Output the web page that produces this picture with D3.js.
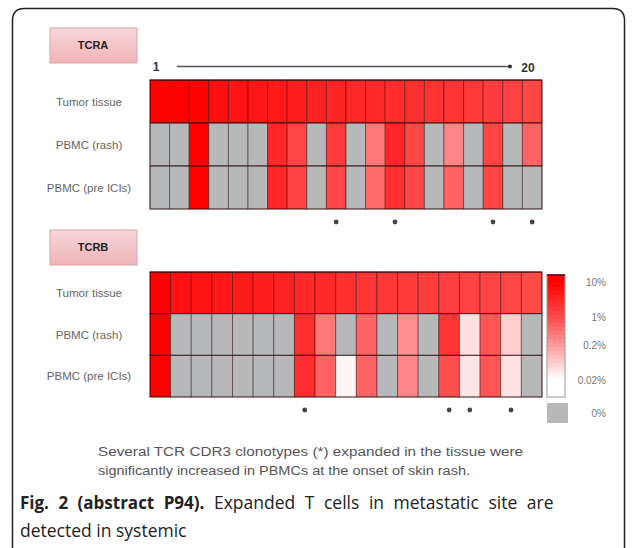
<!DOCTYPE html>
<html>
<head>
<meta charset="utf-8">
<script src="https://cdn.jsdelivr.net/npm/d3@7"></script>
<style>
  html, body { margin: 0; padding: 0; background: #fff; }
  svg { display: block; }
  .narrow { font-family: "Liberation Sans Narrow", "Arial Narrow", "Liberation Sans", Arial, sans-serif; }
  .cap { font-family: "Open Sans", "Noto Sans", sans-serif; }
</style>
</head>
<body>
<script>
// clone frequencies (%) per clonotype, 0 = not detected
var rowNames = ['Tumor tissue', 'PBMC (rash)', 'PBMC (pre ICIs)'];

var tcraTumor = [12, 11, 9, 6, 5.5, 5, 4.5, 4, 3.5, 3.2, 3, 2.8, 2.5, 2.3, 2.1, 1.9, 1.7, 1.5, 1.3, 1.1];
var tcraRash  = [0, 0, 14, 0, 0, 0, 3, 1.2, 0, 1.5, 0, 0.4, 3, 1.1, 0, 0.3, 0, 1.2, 0, 0.6];
var tcraPre   = [0, 0, 14, 0, 0, 0, 3, 1.3, 0, 1.1, 0, 0.5, 2.5, 1.1, 0, 0.6, 0, 1.2, 0, 0];
var tcraStars = [10, 13, 18, 20];

var tcrbTumor = [20, 6, 5.5, 5, 4.5, 4, 3.5, 3, 2.6, 2.3, 2, 1.8, 1.6, 1.5, 1.4, 1.3, 1.2, 1.1, 1.0];
var tcrbRash  = [20, 0, 0, 0, 0, 0, 0, 2.5, 0.4, 0, 0.6, 0, 0.25, 0, 2, 0.04, 0.8, 0.06, 0];
var tcrbPre   = [20, 0, 0, 0, 0, 0, 0, 2.5, 0.6, 0.025, 0.6, 0, 0.3, 0, 0.9, 0.035, 0.8, 0.04, 0];
var tcrbStars = [8, 15, 16, 18];

var legendTicks = [10, 1, 0.2, 0.02];
var legendLabels = ['10%', '1%', '0.2%', '0.02%'];

var W = 637, H = 548;
var svg = d3.select('body').append('svg').attr('width', W).attr('height', H);

var gray = '#b6b8ba';
var color = d3.scaleLog()
  .domain([0.02, 0.2, 1, 10])
  .range(['#ffffff', '#ff9a9a', '#ff4a4a', '#ff0000'])
  .clamp(true);

function cellColor(v) { return v > 0 ? color(v) : gray; }

// frame around the figure
svg.append('path')
  .attr('d', 'M12.5,' + (H + 5) + ' V20.5 Q12.5,8.5 24.5,8.5 H612.5 Q624.5,8.5 624.5,20.5 V' + (H + 5))
  .attr('fill', 'none')
  .attr('stroke', '#222')
  .attr('stroke-width', 1.5);

var defs = svg.append('defs');
var grad = defs.append('linearGradient').attr('id', 'boxgrad').attr('x1', 0).attr('y1', 0).attr('x2', 0).attr('y2', 1);
grad.append('stop').attr('offset', '0%').attr('stop-color', '#f7d6d8');
grad.append('stop').attr('offset', '100%').attr('stop-color', '#f0b4b8');

function drawPanel(opts) {
  var g = svg.append('g');
  var n = opts.rows[0].length;

  var x = d3.scaleBand().domain(d3.range(1, n + 1)).range([150, 542]);
  var y = d3.scaleBand().domain(rowNames).range([opts.top, opts.bottom]);

  // title box
  g.append('rect')
    .attr('x', 50).attr('y', opts.boxY).attr('width', 87).attr('height', 35)
    .attr('fill', 'url(#boxgrad)').attr('stroke', '#d7a6a9').attr('stroke-width', 1);
  g.append('text')
    .attr('class', 'narrow')
    .attr('x', 93).attr('y', opts.boxY + 21)
    .attr('text-anchor', 'middle')
    .attr('font-size', 11).attr('font-weight', 'bold').attr('fill', '#222')
    .text(opts.title);

  // row labels
  g.selectAll('.rowlab')
    .data(rowNames)
    .enter()
    .append('text')
      .attr('class', 'narrow rowlab')
      .attr('x', 89)
      .attr('y', function (d) { return y(d) + y.bandwidth() / 2 + 4; })
      .attr('text-anchor', 'middle')
      .attr('font-size', 11.5)
      .attr('fill', '#666')
      .text(function (d) { return d; });

  // cells
  opts.rows.forEach(function (vals, r) {
    g.selectAll('.c' + r)
      .data(vals)
      .enter()
      .append('rect')
        .attr('x', function (d, i) { return x(i + 1); })
        .attr('y', y(rowNames[r]))
        .attr('width', x.bandwidth())
        .attr('height', y.bandwidth())
        .attr('fill', function (d) { return cellColor(d); })
        .attr('stroke', 'rgba(40,0,0,0.45)')
        .attr('stroke-width', 1);
  });

  // row separators
  g.selectAll('.sep')
    .data(rowNames)
    .enter()
    .append('line')
      .attr('x1', 150).attr('x2', 542)
      .attr('y1', function (d) { return y(d); })
      .attr('y2', function (d) { return y(d); })
      .attr('stroke', 'rgba(30,0,0,0.6)');
  g.append('rect')
    .attr('x', 150).attr('y', opts.top).attr('width', 392).attr('height', opts.bottom - opts.top)
    .attr('fill', 'none').attr('stroke', 'rgba(30,0,0,0.6)');

  // expanded clonotypes
  g.selectAll('.star')
    .data(opts.stars)
    .enter()
    .append('circle')
      .attr('cx', function (d) { return x(d) + x.bandwidth() / 2; })
      .attr('cy', opts.bottom + 13)
      .attr('r', 2.4)
      .attr('fill', '#444');
  return x;
}

drawPanel({ title: 'TCRA', boxY: 28, top: 80, bottom: 209, rows: [tcraTumor, tcraRash, tcraPre], stars: tcraStars });
drawPanel({ title: 'TCRB', boxY: 230, top: 272, bottom: 397, rows: [tcrbTumor, tcrbRash, tcrbPre], stars: tcrbStars });

// clonotype rank arrow 1 -> 20
svg.append('text').attr('class', 'narrow').attr('x', 156).attr('y', 71)
  .attr('text-anchor', 'middle').attr('font-size', 12).attr('font-weight', 'bold').attr('fill', '#333').text('1');
svg.append('text').attr('class', 'narrow').attr('x', 528).attr('y', 72)
  .attr('text-anchor', 'middle').attr('font-size', 12).attr('font-weight', 'bold').attr('fill', '#333').text('20');
svg.append('line').attr('x1', 177).attr('x2', 510).attr('y1', 66.5).attr('y2', 66.5)
  .attr('stroke', '#555').attr('stroke-width', 1.5);
svg.append('circle').attr('cx', 510).attr('cy', 66.5).attr('r', 2).attr('fill', '#333');

// legend
var ly = d3.scaleLog().domain(legendTicks).range([282, 317, 345, 380]).clamp(true);
var lg = svg.append('g');
var bandY = d3.range(275, 397, 4);
lg.selectAll('.band')
  .data(bandY)
  .enter()
  .append('rect')
    .attr('x', 547).attr('y', function (d) { return d; })
    .attr('width', 18).attr('height', 4.5)
    .attr('fill', function (d) { return color(ly.invert(d + 2)); });
lg.append('rect').attr('x', 547).attr('y', 275).attr('width', 18).attr('height', 122)
  .attr('fill', 'none').attr('stroke', '#9a9a9a');
lg.append('line').attr('x1', 547).attr('x2', 565).attr('y1', 275).attr('y2', 275).attr('stroke', '#400').attr('stroke-width', 1.5);
lg.append('rect').attr('x', 547).attr('y', 403).attr('width', 21).attr('height', 20).attr('fill', gray);

lg.selectAll('.ltick')
  .data(legendTicks)
  .enter()
  .append('text')
    .attr('class', 'narrow')
    .attr('x', 606)
    .attr('y', function (d) { return ly(d) + 3.5; })
    .attr('text-anchor', 'end')
    .attr('font-size', 10)
    .attr('fill', '#777')
    .text(function (d, i) { return legendLabels[i]; });
lg.append('text').attr('class', 'narrow').attr('x', 606).attr('y', 416.5)
  .attr('text-anchor', 'end').attr('font-size', 10).attr('fill', '#777').text('0%');

// note under the heatmaps
svg.append('text').attr('class', 'narrow').attr('x', 98).attr('y', 456)
  .attr('font-size', 12.5).attr('fill', '#555')
  .attr('textLength', 425).attr('lengthAdjust', 'spacingAndGlyphs')
  .text('Several TCR CDR3 clonotypes (*) expanded in the tissue were');
svg.append('text').attr('class', 'narrow').attr('x', 98).attr('y', 475)
  .attr('font-size', 12.5).attr('fill', '#555')
  .attr('textLength', 372).attr('lengthAdjust', 'spacingAndGlyphs')
  .text('significantly increased in PBMCs at the onset of skin rash.');

// figure caption (justified first line)
var cap = svg.append('text').attr('class', 'cap').attr('x', 20).attr('y', 509)
  .attr('font-size', 17.5).attr('fill', '#222').attr('word-spacing', 5);
cap.append('tspan').attr('font-weight', 'bold').attr('font-size', 17).text('Fig. 2 (abstract P94).');
cap.append('tspan').text(' Expanded T cells in metastatic site are');
svg.append('text').attr('class', 'cap').attr('x', 20).attr('y', 537)
  .attr('font-size', 17.5).attr('fill', '#222').text('detected in systemic');
</script>
</body>
</html>
